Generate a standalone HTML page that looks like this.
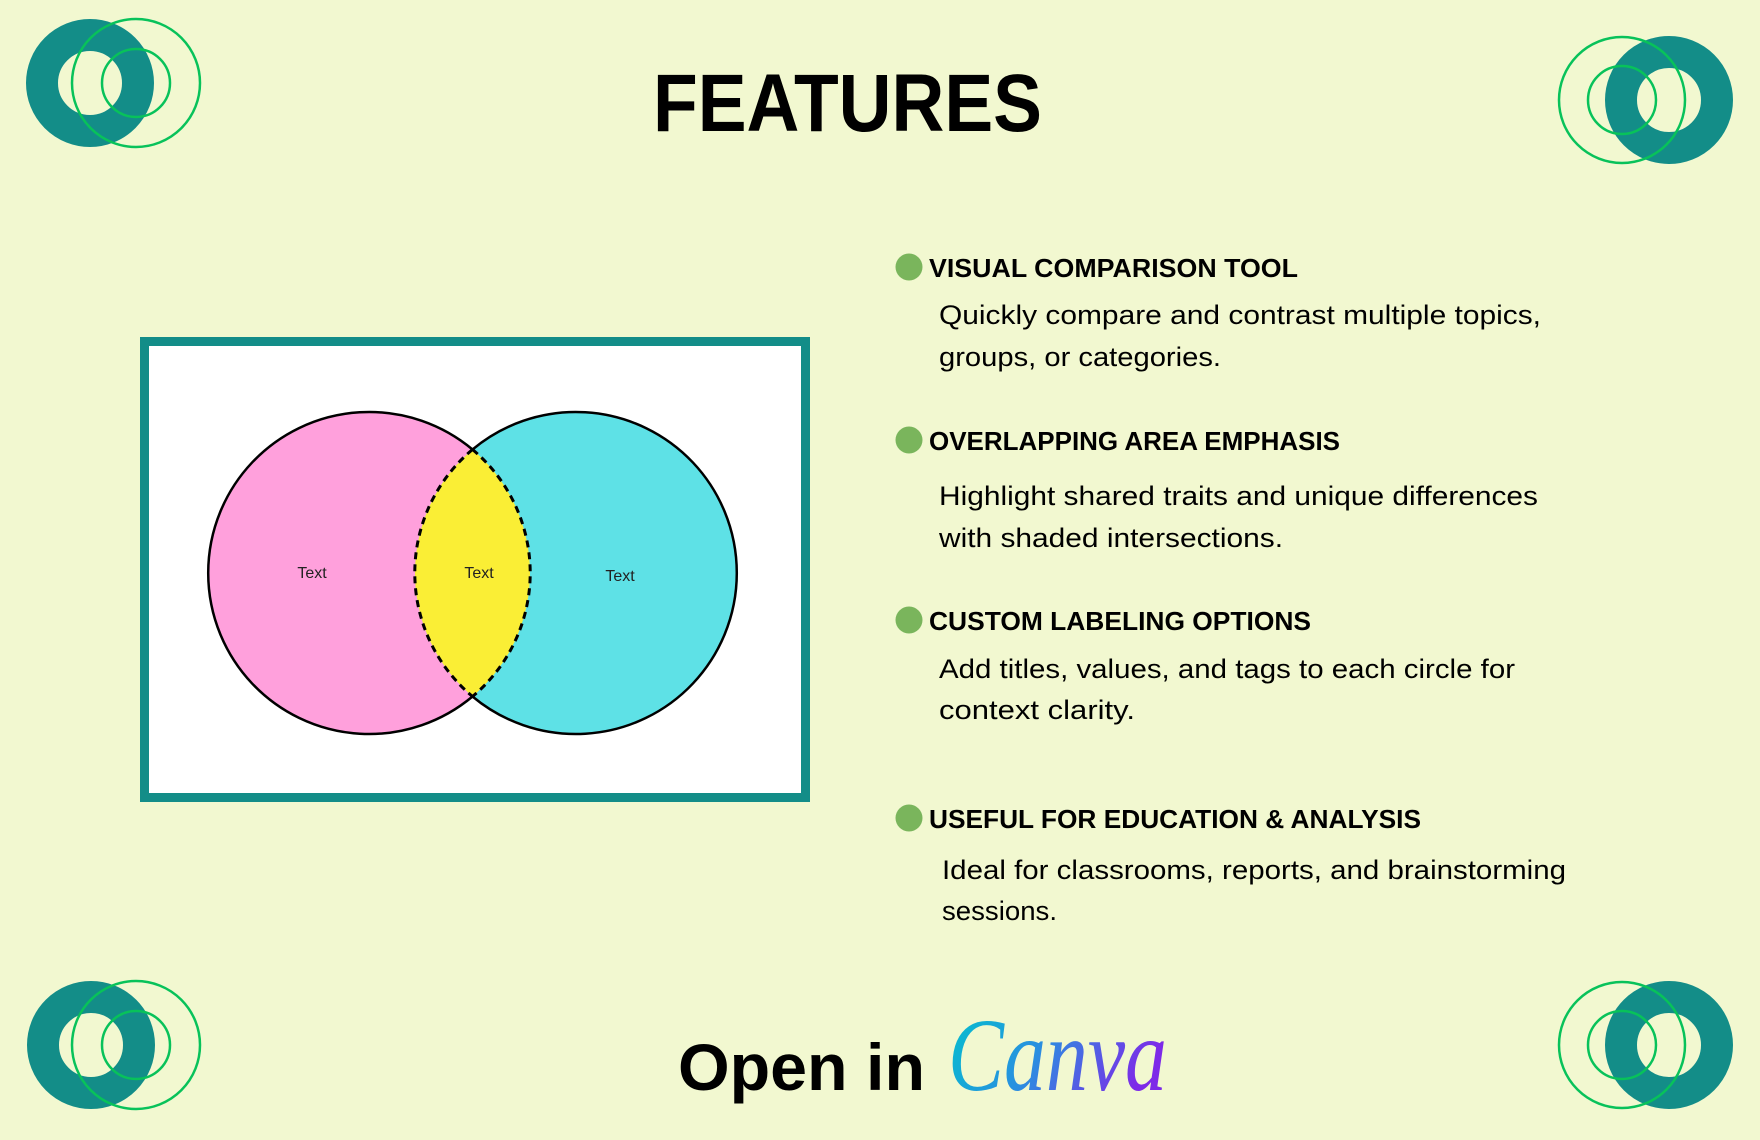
<!DOCTYPE html>
<html><head><meta charset="utf-8"><style>html,body{margin:0;padding:0;background:#f2f8d0}svg{display:block}</style></head>
<body>
<svg width="1760" height="1140" viewBox="0 0 1760 1140" xmlns="http://www.w3.org/2000/svg">
<defs>
<linearGradient id="cg" x1="0" y1="0" x2="1" y2="0.3">
<stop offset="0" stop-color="#00c4cc"/><stop offset="0.5" stop-color="#2a8fe0"/><stop offset="1" stop-color="#7d2ae8"/>
</linearGradient>
<clipPath id="lc"><circle cx="369" cy="573" r="161"/></clipPath>
</defs>
<rect width="1760" height="1140" fill="#f2f8d0"/>
<g fill="none">
<circle cx="90" cy="83" r="48" stroke="#138d88" stroke-width="32"/>
<circle cx="136" cy="83" r="64" stroke="#08c25a" stroke-width="2.5"/>
<circle cx="136" cy="83" r="34" stroke="#08c25a" stroke-width="2.5"/>

<circle cx="1669" cy="100" r="48" stroke="#138d88" stroke-width="32"/>
<circle cx="1622" cy="100" r="63" stroke="#08c25a" stroke-width="2.5"/>
<circle cx="1622" cy="100" r="34" stroke="#08c25a" stroke-width="2.5"/>

<circle cx="91" cy="1045" r="48" stroke="#138d88" stroke-width="32"/>
<circle cx="136" cy="1045" r="64" stroke="#08c25a" stroke-width="2.5"/>
<circle cx="136" cy="1045" r="34" stroke="#08c25a" stroke-width="2.5"/>

<circle cx="1669" cy="1045" r="48" stroke="#138d88" stroke-width="32"/>
<circle cx="1622" cy="1045" r="63" stroke="#08c25a" stroke-width="2.5"/>
<circle cx="1622" cy="1045" r="34" stroke="#08c25a" stroke-width="2.5"/>
</g>
<text x="653" y="131" font-family="Liberation Sans, sans-serif" font-weight="bold" font-size="82" textLength="389" lengthAdjust="spacingAndGlyphs" fill="#000">FEATURES</text>
<rect x="144.5" y="341.5" width="661" height="456" fill="#fff" stroke="#138d88" stroke-width="9"/>
<circle cx="369" cy="573" r="161" fill="#ffa0dc"/>
<circle cx="576" cy="573" r="161" fill="#5ee1e6"/>
<circle cx="576" cy="573" r="161" fill="#faee35" clip-path="url(#lc)"/>
<g fill="none" stroke="#000" stroke-width="2.5">
<path d="M472.5 449.5 A161 161 0 1 0 472.5 696.5"/>
<path d="M472.5 449.5 A161 161 0 1 1 472.5 696.5"/>
<g stroke-width="3" stroke-dasharray="7 5">
<path d="M472.5 449.5 A161 161 0 0 0 472.5 696.5"/>
<path d="M472.5 449.5 A161 161 0 0 1 472.5 696.5"/>
</g>
</g>
<g font-family="Liberation Sans, sans-serif" font-size="16" fill="#222" text-anchor="middle">
<text x="312" y="578">Text</text>
<text x="479" y="578">Text</text>
<text x="620" y="581">Text</text>
</g>
<g fill="#7ab55c">
<circle cx="909" cy="267" r="13.5"/>
<circle cx="909" cy="440" r="13.5"/>
<circle cx="909" cy="620" r="13.5"/>
<circle cx="909" cy="818" r="13.5"/>
</g>
<g font-family="Liberation Sans, sans-serif" font-weight="bold" font-size="26" fill="#000">
<text x="929" y="277" textLength="369" lengthAdjust="spacingAndGlyphs">VISUAL COMPARISON TOOL</text>
<text x="929" y="450" textLength="411" lengthAdjust="spacingAndGlyphs">OVERLAPPING AREA EMPHASIS</text>
<text x="929" y="630" textLength="382" lengthAdjust="spacingAndGlyphs">CUSTOM LABELING OPTIONS</text>
<text x="929" y="828" textLength="492" lengthAdjust="spacingAndGlyphs">USEFUL FOR EDUCATION &amp; ANALYSIS</text>
</g>
<g font-family="Liberation Sans, sans-serif" font-size="27" fill="#000">
<text x="939" y="324" textLength="602" lengthAdjust="spacingAndGlyphs">Quickly compare and contrast multiple topics,</text>
<text x="939" y="366" textLength="282" lengthAdjust="spacingAndGlyphs">groups, or categories.</text>
<text x="939" y="505" textLength="599" lengthAdjust="spacingAndGlyphs">Highlight shared traits and unique differences</text>
<text x="939" y="547" textLength="344" lengthAdjust="spacingAndGlyphs">with shaded intersections.</text>
<text x="939" y="678" textLength="576" lengthAdjust="spacingAndGlyphs">Add titles, values, and tags to each circle for</text>
<text x="939" y="719" textLength="196" lengthAdjust="spacingAndGlyphs">context clarity.</text>
<text x="942" y="879" textLength="624" lengthAdjust="spacingAndGlyphs">Ideal for classrooms, reports, and brainstorming</text>
<text x="942" y="920" textLength="115" lengthAdjust="spacingAndGlyphs">sessions.</text>
</g>
<text x="678" y="1090" font-family="Liberation Sans, sans-serif" font-weight="bold" font-size="66" textLength="247" lengthAdjust="spacingAndGlyphs" fill="#000">Open in</text>
<text x="948" y="1090" font-family="Liberation Serif, serif" font-style="italic" font-size="104" textLength="219" lengthAdjust="spacingAndGlyphs" fill="url(#cg)">Canva</text>
</svg>
</body></html>
